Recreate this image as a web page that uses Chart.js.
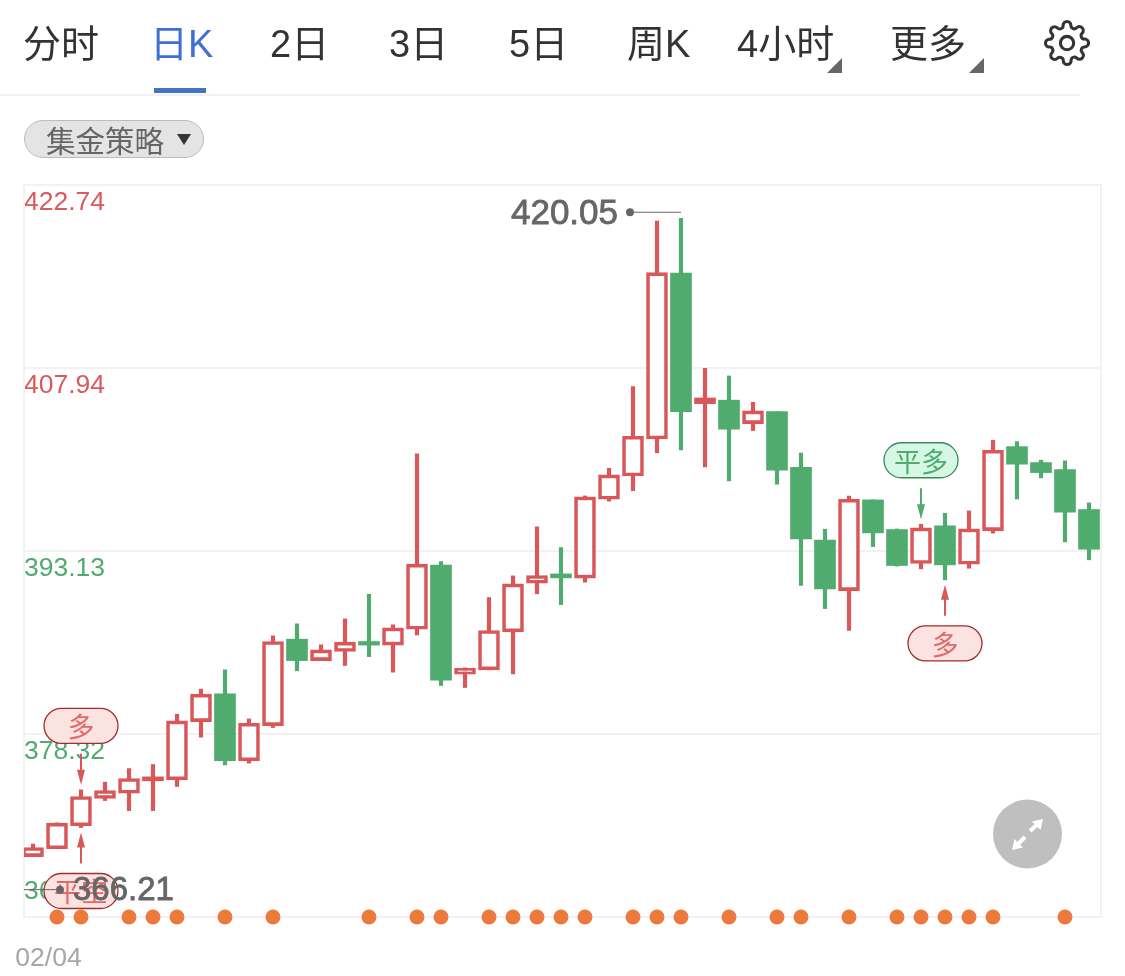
<!DOCTYPE html>
<html lang="zh">
<head>
<meta charset="utf-8">
<title>日K</title>
<script src="https://cdn.jsdelivr.net/npm/chart.js@4/dist/chart.umd.js"></script>
<style>
html,body{margin:0;padding:0;background:#fff;width:1125px;height:976px;overflow:hidden;}
body{position:relative;font-family:"Liberation Sans","Noto Sans CJK SC",sans-serif;}
canvas{position:absolute;left:0;top:0;}
.nav{position:absolute;top:18px;height:52px;line-height:52px;font-size:38px;color:#333;white-space:nowrap;}
.nav.on{color:#3f70d2;}
#under{position:absolute;left:154px;top:88px;width:52px;height:5px;background:#4472c4;}
#rule{position:absolute;left:0;top:94px;width:1080px;height:2px;background:#f1f1f3;}
#pill{position:absolute;left:24px;top:120px;width:178px;height:36px;border:1px solid #bcbcbc;border-radius:19px;background:#e4e4e4;color:#666;font-size:29.5px;line-height:37px;}
#pill span{position:absolute;left:21px;top:2px;white-space:nowrap;}
svg{position:absolute;overflow:visible;}
</style>
</head>
<body>
<canvas id="c" width="1125" height="976"></canvas>
<div class="nav" style="left:23px">分时</div>
<div class="nav on" style="left:150px">日K</div>
<div class="nav" style="left:270px">2日</div>
<div class="nav" style="left:389px">3日</div>
<div class="nav" style="left:509px">5日</div>
<div class="nav" style="left:627px">周K</div>
<div class="nav" style="left:737px">4小时</div>
<div class="nav" style="left:890px">更多</div>
<div id="under"></div><div id="rule"></div>
<div id="pill"><span>集金策略</span></div>
<svg style="left:0;top:0" width="1125" height="176">
  <polygon points="842,58 842,73 827,73" fill="#666"/>
  <polygon points="984,58 984,73 969,73" fill="#666"/>
  <polygon points="177,134 191,134 184,145" fill="#333"/>
  <g transform="translate(1043.5,19.5) scale(1.96)" fill="none" stroke="#333" stroke-width="1.55" stroke-linejoin="round">
    <circle cx="12" cy="12" r="3.4"/>
    <path d="M19.4 15a1.65 1.65 0 0 0 .33 1.82l.06.06a2 2 0 0 1 0 2.83 2 2 0 0 1-2.83 0l-.06-.06a1.65 1.65 0 0 0-1.82-.33 1.65 1.65 0 0 0-1 1.51V21a2 2 0 0 1-2 2 2 2 0 0 1-2-2v-.09A1.65 1.65 0 0 0 9 19.4a1.65 1.65 0 0 0-1.82.33l-.06.06a2 2 0 0 1-2.83 0 2 2 0 0 1 0-2.83l.06-.06a1.65 1.65 0 0 0 .33-1.82 1.65 1.65 0 0 0-1.51-1H3a2 2 0 0 1-2-2 2 2 0 0 1 2-2h.09A1.65 1.65 0 0 0 4.6 9a1.65 1.65 0 0 0-.33-1.82l-.06-.06a2 2 0 0 1 0-2.83 2 2 0 0 1 2.83 0l.06.06a1.65 1.65 0 0 0 1.82.33H9a1.65 1.65 0 0 0 1-1.51V3a2 2 0 0 1 2-2 2 2 0 0 1 2 2v.09a1.65 1.65 0 0 0 1 1.51 1.65 1.65 0 0 0 1.82-.33l.06-.06a2 2 0 0 1 2.83 0 2 2 0 0 1 0 2.83l-.06.06a1.65 1.65 0 0 0-.33 1.82V9a1.65 1.65 0 0 0 1.51 1H21a2 2 0 0 1 2 2 2 2 0 0 1-2 2h-.09a1.65 1.65 0 0 0-1.51 1z"/>
  </g>
</svg>
<svg style="left:0;top:0;z-index:5" width="1125" height="976">
  <circle cx="1027.5" cy="834" r="34.5" fill="#bfbfbf"/>
  <g stroke="#fff" stroke-width="4" fill="#fff">
    <line x1="1030" y1="831" x2="1039" y2="823"/>
    <line x1="1025" y1="837" x2="1016" y2="846"/>
    <polygon points="1043,819 1040.5,830 1032,821.5" stroke="none"/>
    <polygon points="1012,850 1014.5,839 1023,847.5" stroke="none"/>
  </g>
</svg>
<script>
const highs  = [369.41,371.13,373.80,374.42,375.52,375.85,379.92,381.95,383.51,379.54,386.26,387.23,385.53,387.63,389.63,387.15,400.98,392.27,383.67,389.36,391.11,395.08,393.40,397.58,399.82,406.43,419.83,420.05,407.91,407.29,405.16,404.40,401.04,394.89,397.56,397.26,394.91,395.29,396.18,396.37,402.09,401.98,400.47,400.42,397.02];
const lows   = [368.40,369.03,370.75,372.93,372.12,372.12,374.07,378.06,375.82,375.96,378.84,383.43,384.26,383.86,384.58,383.32,386.34,382.24,382.08,383.51,383.18,389.66,388.79,390.60,397.16,398.01,401.09,401.30,399.93,398.80,402.87,398.53,390.33,388.47,386.69,393.48,391.90,391.68,390.79,391.73,394.57,397.34,399.04,393.86,392.41];
const opens  = [368.40,369.03,370.89,373.10,373.53,374.53,374.61,379.32,381.56,376.15,379.00,385.99,384.26,384.99,385.80,385.51,386.80,391.98,383.16,383.51,386.58,390.52,391.27,390.93,397.32,399.20,402.19,415.62,405.05,405.33,403.43,404.40,399.89,394.00,389.92,397.26,394.86,392.11,395.16,392.06,394.78,401.57,400.28,399.71,396.48];
const closes = [369.13,371.10,373.26,373.74,374.71,374.85,379.38,381.54,376.15,379.19,385.80,384.26,385.12,385.75,385.51,386.90,392.06,382.67,383.64,386.69,390.46,391.14,390.95,397.50,399.28,402.41,415.65,404.40,405.51,402.98,404.46,399.66,394.10,390.06,397.32,394.59,391.95,394.99,392.00,394.91,401.28,400.15,399.47,396.26,393.27];
const dotIndexes = [1,2,4,5,6,8,10,14,16,17,19,20,21,22,23,25,26,27,29,31,32,34,36,37,38,39,40,43];
const redTicks = [422.74,407.94];
const greenTicks = [393.13,378.32];
const floorTick = [363.51];
const dateLabels = ['02/04'];
const signalIndexes = [2,2,37,38];
const signalTexts = ['多','平空','平多','多'];
const signalSides = ['above','below','above','below'];
const signalKinds = ['red','red','green','red'];
const extremeValues = [420.05,366.21];

const RED='#da5759', GREEN='#4fab6e', GRID='#f2f2f2';
const indexes = opens.map((_,i)=>i);
const isUp = i => closes[i] >= opens[i];
const isThin = i => Math.abs(closes[i]-opens[i]) < 0.47;
const axisMin = floorTick[0], axisMax = redTicks[0];
const valueFont = '"Liberation Sans",Arial,sans-serif';
const cjkFont = '"Noto Sans CJK SC",sans-serif';

const palette = {
  red:{fill:'#fbe3e1',line:'#a32c2c',text:'#e2686a',arrow:RED},
  green:{fill:'#d6f7e4',line:'#3a875c',text:'#4fab6e',arrow:GREEN}
};

function pill(ctx,x,y,w,h){
  ctx.beginPath();
  ctx.roundRect(x,y,w,h,h/2);
}
function arrow(ctx,x,tail,tip,color){
  const dir = tip>tail?1:-1;
  ctx.strokeStyle=color;ctx.fillStyle=color;ctx.lineWidth=2;
  ctx.beginPath();ctx.moveTo(x,tail);ctx.lineTo(x,tip-dir*8);ctx.stroke();
  ctx.beginPath();ctx.moveTo(x,tip);ctx.lineTo(x-4,tip-dir*15);ctx.lineTo(x+4,tip-dir*15);ctx.closePath();ctx.fill();
}

const overlay = {
  id:'overlay',
  beforeDatasetsDraw(chart){
    const {ctx,chartArea:a}=chart;
    ctx.save();
    ctx.strokeStyle=GRID;ctx.lineWidth=2;
    ctx.strokeRect(a.left,a.top,a.right-a.left,a.bottom-a.top);
    ctx.restore();
  },
  afterDatasetsDraw(chart){
    const {ctx,chartArea:a,scales:{x,y}}=chart;
    ctx.save();
    signalIndexes.forEach((idx,n)=>{
      const cx=x.getPixelForValue(idx), p=palette[signalKinds[n]], text=signalTexts[n];
      const above=signalSides[n]==='above';
      const tip=above? y.getPixelForValue(highs[idx])-5 : y.getPixelForValue(lows[idx])+5;
      const tail=above? tip-31 : tip+31;
      const top=above? tail-45.5 : tail+10;
      arrow(ctx,cx,tail,tip,p.arrow);
      pill(ctx,cx-37,top,74,35);
      ctx.fillStyle=p.fill;ctx.fill();
      ctx.strokeStyle=p.line;ctx.lineWidth=1.3;ctx.stroke();
      ctx.fillStyle=p.text;ctx.font='27px '+cjkFont;
      ctx.textAlign='center';ctx.textBaseline='middle';
      const chars=[...text];
      chars.forEach((c,k)=>ctx.fillText(c,cx+(k-(chars.length-1)/2)*27,top+18.5));
    });
    const hiY=y.getPixelForValue(extremeValues[0])-6, hiX=x.getPixelForValue(27);
    const loY=y.getPixelForValue(extremeValues[1])+6;
    ctx.strokeStyle='#666';ctx.fillStyle='#666';ctx.lineWidth=1;
    ctx.beginPath();ctx.moveTo(hiX,hiY);ctx.lineTo(hiX-51,hiY);ctx.stroke();
    ctx.beginPath();ctx.arc(hiX-51,hiY,4,0,Math.PI*2);ctx.fill();
    ctx.beginPath();ctx.moveTo(a.left,loY);ctx.lineTo(a.left+36,loY);ctx.stroke();
    ctx.beginPath();ctx.arc(a.left+36,loY,4,0,Math.PI*2);ctx.fill();
    ctx.textBaseline='middle';
    ctx.lineWidth=0.8;
    ctx.font='35px '+valueFont;
    ctx.textAlign='right';
    ctx.fillText(extremeValues[0].toFixed(2),hiX-63,hiY+2);
    ctx.strokeText(extremeValues[0].toFixed(2),hiX-63,hiY+2);
    ctx.font='33px '+valueFont;
    ctx.textAlign='left';
    ctx.fillText(extremeValues[1].toFixed(2),a.left+49,loY+1);
    ctx.strokeText(extremeValues[1].toFixed(2),a.left+49,loY+1);
    ctx.restore();
  }
};

new Chart(document.getElementById('c'),{
  type:'bar',
  plugins:[overlay],
  data:{
    datasets:[
      {label:'marks',type:'scatter',order:0,clip:false,
       data:dotIndexes.map(i=>({x:i,y:axisMin})),
       pointRadius:7.5,pointHoverRadius:7.5,pointBackgroundColor:'#ec7a3d',pointBorderWidth:0,xAxisID:'x',yAxisID:'y'},
      {label:'body',order:1,grouped:false,barThickness:21,borderSkipped:false,
       data:indexes.map(i=>({x:i,y:[opens[i],closes[i]]})),
       backgroundColor:c=>isUp(c.dataIndex)?(isThin(c.dataIndex)?RED:'#fff'):GREEN,
       borderColor:c=>isUp(c.dataIndex)?RED:GREEN,
       borderWidth:c=>isUp(c.dataIndex)&&!isThin(c.dataIndex)?3.6:0,
       xAxisID:'x',yAxisID:'y'},
      {label:'wick',order:2,grouped:false,barThickness:3.5,borderWidth:0,
       data:indexes.map(i=>({x:i,y:[lows[i],highs[i]]})),
       backgroundColor:c=>isUp(c.dataIndex)?RED:GREEN,
       xAxisID:'x',yAxisID:'y'}
    ]
  },
  options:{
    responsive:false,animation:false,devicePixelRatio:1,
    layout:{padding:{left:24,right:24,top:185,bottom:0}},
    plugins:{legend:{display:false},tooltip:{enabled:false}},
    events:[],
    scales:{
      x:{type:'linear',offset:false,min:-0.375,max:44.5,
         grid:{display:false},border:{display:false},
         afterBuildTicks(s){s.ticks=dateLabels.map((_,k)=>({value:k}));},
         afterFit(s){s.height=59;s.paddingLeft=0;s.paddingRight=0;},
         ticks:{autoSkip:false,maxRotation:0,minRotation:0,padding:18,labelOffset:15.5,color:'#a6a6a6',
                font:{family:valueFont,size:26.5},callback:(v,k)=>dateLabels[k]}},
      y:{position:'left',min:axisMin,max:axisMax,
         border:{display:false},
         grid:{color:GRID,lineWidth:2,drawTicks:false},
         afterBuildTicks(s){s.ticks=[...redTicks,...greenTicks,...floorTick].map(value=>({value}));},
         afterFit(s){s.paddingTop=0;s.paddingBottom=0;},
         ticks:{mirror:true,padding:0,labelOffset:18,autoSkip:false,
                font:{family:valueFont,size:26.5},
                color:c=>redTicks.includes(c.tick.value)?'#d9595c':'#4fab6e',
                callback:v=>floorTick.includes(v)?'':v.toFixed(2)}},
      y2:{position:'left',min:axisMin,max:axisMax,
         border:{display:false},
         grid:{display:false,drawTicks:false},
         afterBuildTicks(s){s.ticks=floorTick.map(value=>({value}));},
         afterFit(s){s.paddingTop=0;s.paddingBottom=0;},
         ticks:{mirror:true,padding:0,labelOffset:-25,autoSkip:false,
                font:{family:valueFont,size:26.5},color:'#4fab6e',
                callback:v=>v.toFixed(2)}}
    }
  }
});
</script>
</body>
</html>
